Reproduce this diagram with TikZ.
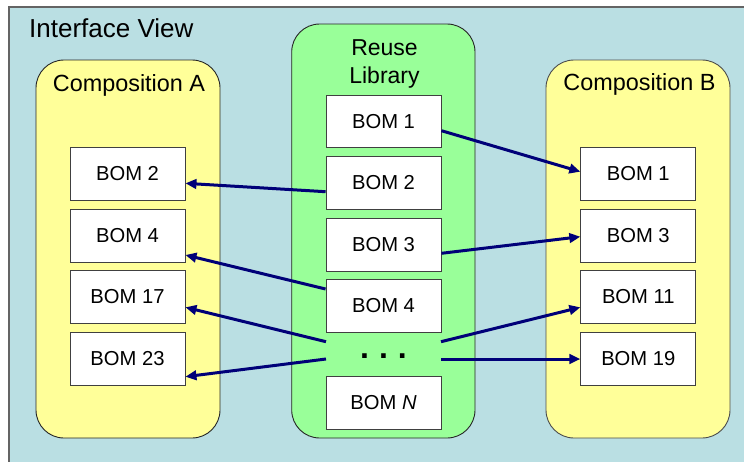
\documentclass[tikz,border=0pt]{standalone}
\usepackage{fontspec}
\setmainfont{Liberation Sans}
\usetikzlibrary{arrows.meta}

\definecolor{viewbg}{RGB}{186,223,227}
\definecolor{compfill}{RGB}{255,255,153}
\definecolor{libfill}{RGB}{153,255,153}
\definecolor{linknavy}{RGB}{0,0,120}
\definecolor{frameline}{RGB}{100,100,100}

\begin{document}
\begin{tikzpicture}[x=1pt,y=-1pt,
  pane/.style={draw=black!85, line width=0.9pt, rounded corners=28pt},
  bom/.style={draw=black!75, line width=0.9pt, fill=white, inner sep=0pt,
    minimum width=115pt, minimum height=52.7pt,
    font=\fontsize{20.2}{23}\selectfont},
  heading/.style={inner sep=0pt, font=\fontsize{23.4}{27}\selectfont},
  arr/.style={draw=linknavy, line width=3pt,
    -{Triangle[length=11pt,width=9.5pt]}}
]
\useasboundingbox (0,0) rectangle (744,461);
\clip (0,0) rectangle (744,461);

% outer view frame
\draw[frameline, line width=1.3pt, fill=viewbg] (9,7) rectangle (770,490);
\node[heading, anchor=base west, font=\fontsize{26}{30}\selectfont] (view) at (29,37.7) {Interface View};

% containers
\draw[pane, fill=compfill] (36,60) rectangle (220,438);
\draw[pane, fill=libfill] (291.7,24) rectangle (475,438);
\draw[pane, draw=black!70, fill=compfill] (546,60) rectangle (730,438);

\node[heading, anchor=base] (compA) at (129,91.7) {Composition A};
\node[heading, anchor=base] (compB) at (639.5,90.7) {Composition B};
\node[heading, anchor=base, font=\fontsize{23}{27}\selectfont] (reuse) at (384.5,55.7) {Reuse};
\node[heading, anchor=base, font=\fontsize{23}{27}\selectfont] (library) at (384.5,83.3) {Library};

% reuse library entries
\node[bom] (lb1) at (383.5,121.3) {BOM 1};
\node[bom] (lb2) at (383.5,183) {BOM 2};
\node[bom] (lb3) at (383.5,244.7) {BOM 3};
\node[bom] (lb4) at (383.5,306) {BOM 4};
\node[inner sep=0pt, anchor=base, font=\fontsize{32}{34}\selectfont\bfseries] (dots) at (383.5,358.3) {.\hspace{10pt}.\hspace{10pt}.};
\node[bom] (lbn) at (383.5,403) {BOM \textit{N}};

% composition A entries
\node[bom] (ca1) at (127.5,174) {BOM 2};
\node[bom] (ca2) at (127.5,235.7) {BOM 4};
\node[bom] (ca3) at (127.5,297) {BOM 17};
\node[bom] (ca4) at (127.5,359) {BOM 23};

% composition B entries
\node[bom] (cb1) at (638.3,174) {BOM 1};
\node[bom] (cb2) at (638.3,235.7) {BOM 3};
\node[bom] (cb3) at (638.3,297) {BOM 11};
\node[bom] (cb4) at (638.3,359) {BOM 19};

% free ends beside the ellipsis
\coordinate (dl1) at (326,341.7);
\coordinate (dl2) at (326,359);
\coordinate (dr1) at (441,341.7);
\coordinate (dr2) at (441,359);

% links from the library into the compositions
\draw[arr] ([yshift=-9.4pt]lb1.east) -- ([yshift=2.3pt]cb1.west);
\draw[arr] ([yshift=-8.7pt]lb2.west) -- ([yshift=-9.3pt]ca1.east);
\draw[arr] ([yshift=-8.6pt]lb3.east) -- ([yshift=-1pt]cb2.west);
\draw[arr] ([yshift=17pt]lb4.west) -- ([yshift=-19.3pt]ca2.east);
\draw[arr] (dl1) -- ([yshift=-10.3pt]ca3.east);
\draw[arr] (dl2) -- ([yshift=-17.7pt]ca4.east);
\draw[arr] (dr1) -- ([yshift=-10.3pt]cb3.west);
\draw[arr] (dr2) -- (cb4.west);
\end{tikzpicture}
\end{document}
